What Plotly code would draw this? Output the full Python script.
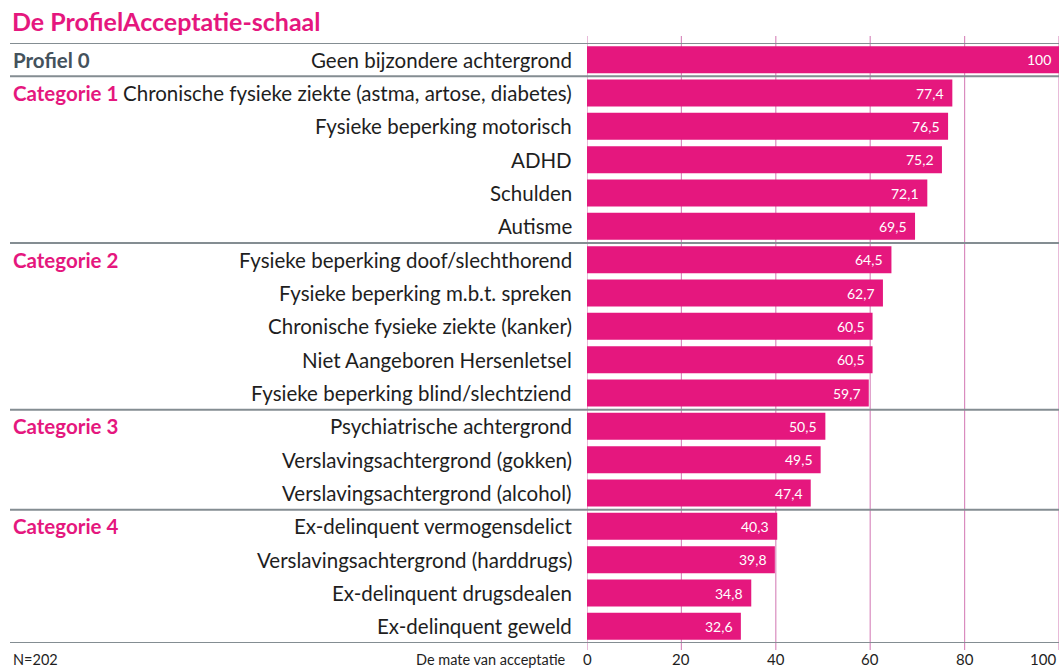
import plotly.graph_objects as go

title = "De ProfielAcceptatie-schaal"
labels = [
    "Geen bijzondere achtergrond",
    "Chronische fysieke ziekte (astma, artose, diabetes)",
    "Fysieke beperking motorisch",
    "ADHD",
    "Schulden",
    "Autisme",
    "Fysieke beperking doof/slechthorend",
    "Fysieke beperking m.b.t. spreken",
    "Chronische fysieke ziekte (kanker)",
    "Niet Aangeboren Hersenletsel",
    "Fysieke beperking blind/slechtziend",
    "Psychiatrische achtergrond",
    "Verslavingsachtergrond (gokken)",
    "Verslavingsachtergrond (alcohol)",
    "Ex-delinquent vermogensdelict",
    "Verslavingsachtergrond (harddrugs)",
    "Ex-delinquent drugsdealen",
    "Ex-delinquent geweld",
]
values = [100, 77.4, 76.5, 75.2, 72.1, 69.5, 64.5, 62.7, 60.5, 60.5, 59.7,
          50.5, 49.5, 47.4, 40.3, 39.8, 34.8, 32.6]
group_names = ["Profiel 0", "Categorie 1", "Categorie 2", "Categorie 3", "Categorie 4"]
group_start = [0, 1, 6, 11, 14]
tick_vals = [0, 20, 40, 60, 80, 100]
x_title = "De mate van acceptatie"
note = "N=202"

PINK = "#e5177e"
SLATE = "#44525c"
GRAY = "#848d92"
GRID = "#d98cbf"
TXT = "#1e1e1e"
FONT = "Lato"

W, H = 1059, 668
ml, mr, mt, mb = 587, 0, 43, 25
pw = W - ml - mr
ph = H - mt - mb
n = len(labels)
label_y = -(659 - (mt + ph)) / ph

def fmt(v):
    s = f"{v:.1f}".replace(".", ",")
    return s[:-2] if s.endswith(",0") else s

fig = go.Figure()
fig.add_trace(go.Bar(
    x=values, y=list(range(n)), orientation="h",
    marker=dict(color=PINK, line=dict(width=0)),
    width=0.81, hoverinfo="skip",
))

ann = []
for i, v in enumerate(values):
    ann.append(dict(x=v, y=i, xref="x", yref="y", text=fmt(v), showarrow=False,
                    xanchor="right", xshift=-6, yanchor="middle",
                    font=dict(family=FONT, size=14, color="white")))
for i, lab in enumerate(labels):
    ann.append(dict(x=0, y=i, xref="x", yref="y", text=lab, showarrow=False,
                    xanchor="right", xshift=-13, yanchor="middle",
                    font=dict(family=FONT, size=20.5, color=TXT)))
for g, s in zip(group_names, group_start):
    ann.append(dict(x=(11 - ml) / pw, y=s, xref="paper", yref="y", text=f"<b>{g}</b>",
                    showarrow=False, xanchor="left", yanchor="middle",
                    font=dict(family=FONT, size=20.5, color=SLATE if s == 0 else PINK)))
ann.append(dict(x=(10 - ml) / pw, y=(H - 21 - mb) / ph, xref="paper", yref="paper",
                text=f"<b>{title}</b>", showarrow=False, xanchor="left", yanchor="middle",
                font=dict(family=FONT, size=25, color=PINK)))
ann.append(dict(x=(11 - ml) / pw, y=label_y, xref="paper", yref="paper",
                text=note, showarrow=False, xanchor="left", yanchor="middle",
                font=dict(family=FONT, size=14.5, color=TXT)))
ann.append(dict(x=(568 - ml) / pw, y=label_y, xref="paper", yref="paper",
                text=x_title, showarrow=False, xanchor="right", yanchor="middle",
                font=dict(family=FONT, size=14.5, color=TXT)))
for t in tick_vals:
    last = t == tick_vals[-1]
    ann.append(dict(x=t, y=label_y, xref="x", yref="paper", text=str(t), showarrow=False,
                    xanchor="right" if last else "center", xshift=-1 if last else 0,
                    yanchor="middle", font=dict(family=FONT, size=15, color=TXT)))

shapes = []
for t in tick_vals:
    shapes.append(dict(type="line", xref="x", yref="paper", x0=t, x1=t,
                       y0=-7 / ph, y1=1 + 7 / ph, layer="below",
                       line=dict(color=GRID, width=1.2)))
bounds = [-0.5] + [s - 0.5 for s in group_start[1:]] + [n - 0.5]
for b in bounds:
    shapes.append(dict(type="line", xref="paper", yref="y", x0=(10 - ml) / pw, x1=1,
                       y0=b, y1=b, layer="above", line=dict(color=GRAY, width=2)))

fig.update_layout(
    width=W, height=H,
    margin=dict(l=ml, r=mr, t=mt, b=mb),
    paper_bgcolor="white", plot_bgcolor="white",
    showlegend=False,
    bargap=0.19,
    xaxis=dict(range=[0, 100], showticklabels=False,
               showgrid=False, zeroline=False, showline=False, ticks="", fixedrange=True),
    yaxis=dict(range=[n - 0.5, -0.5], showticklabels=False, showgrid=False,
               zeroline=False, showline=False, ticks="", fixedrange=True),
    annotations=ann, shapes=shapes,
)
fig.write_html("out.html", config={"displayModeBar": False, "staticPlot": True})

with open("out.html", "r", encoding="utf-8") as f:
    html = f.read()
html = html.replace("<head>", "<head><style>html,body{margin:0;padding:0;overflow:hidden}</style>", 1)
with open("out.html", "w", encoding="utf-8") as f:
    f.write(html)
